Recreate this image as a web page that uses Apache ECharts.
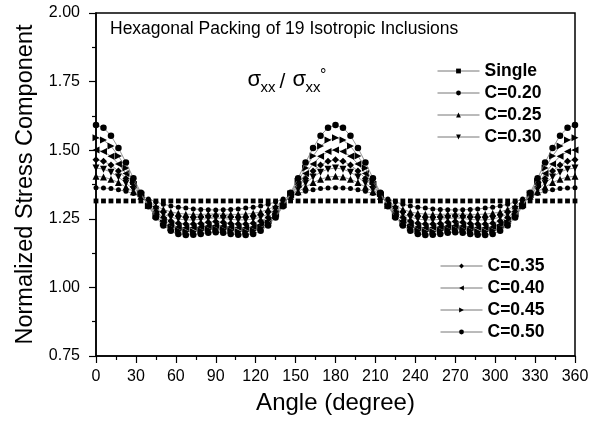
<!DOCTYPE html>
<html>
<head>
<meta charset="utf-8">
<script src="https://cdn.jsdelivr.net/npm/echarts@6/dist/echarts.min.js"></script>
<style>html,body{margin:0;padding:0;background:#fff}#chart{width:601px;height:423px}</style>
</head>
<body>
<div id="chart"></div>
<script>
const angles = [0,5.625,11.25,16.875,22.5,28.125,33.75,39.375,45,50.625,56.25,61.875,67.5,73.125,78.75,84.375,90,95.625,101.25,106.875,112.5,118.125,123.75,129.375,135,140.625,146.25,151.875,157.5,163.125,168.75,174.375,180,185.625,191.25,196.875,202.5,208.125,213.75,219.375,225,230.625,236.25,241.875,247.5,253.125,258.75,264.375,270,275.625,281.25,286.875,292.5,298.125,303.75,309.375,315,320.625,326.25,331.875,337.5,343.125,348.75,354.375,360];

const single = [1.315,1.315,1.315,1.315,1.315,1.315,1.315,1.315,1.315,1.315,1.315,1.315,1.315,1.315,1.315,1.315,1.315,
1.315,1.315,1.315,1.315,1.315,1.315,1.315,1.315,1.315,1.315,1.315,1.315,1.315,1.315,1.315,1.315,
1.315,1.315,1.315,1.315,1.315,1.315,1.315,1.315,1.315,1.315,1.315,1.315,1.315,1.315,1.315,1.315,
1.315,1.315,1.315,1.315,1.315,1.315,1.315,1.315,1.315,1.315,1.315,1.315,1.315,1.315,1.315,1.315];

const c20 = [1.363,1.362,1.360,1.356,1.350,1.342,1.333,1.322,1.312,1.303,1.297,1.292,1.289,1.286,1.284,1.283,1.282,
1.283,1.284,1.286,1.289,1.292,1.297,1.303,1.312,1.322,1.333,1.342,1.350,1.356,1.360,1.362,1.363,
1.362,1.360,1.356,1.350,1.342,1.333,1.322,1.312,1.303,1.297,1.292,1.289,1.286,1.284,1.283,1.282,
1.283,1.284,1.286,1.289,1.292,1.297,1.303,1.312,1.322,1.333,1.342,1.350,1.356,1.360,1.362,1.363];

const c25 = [1.405,1.402,1.394,1.382,1.366,1.349,1.332,1.313,1.297,1.284,1.275,1.270,1.267,1.266,1.266,1.267,1.268,
1.267,1.266,1.266,1.267,1.270,1.275,1.284,1.297,1.313,1.332,1.349,1.366,1.382,1.394,1.402,1.405,
1.402,1.394,1.382,1.366,1.349,1.332,1.313,1.297,1.284,1.275,1.270,1.267,1.266,1.266,1.267,1.268,
1.267,1.266,1.266,1.267,1.270,1.275,1.284,1.297,1.313,1.332,1.349,1.366,1.382,1.394,1.402,1.405];

const c30 = [1.435,1.431,1.420,1.402,1.380,1.357,1.334,1.308,1.285,1.267,1.256,1.249,1.246,1.246,1.248,1.251,1.253,
1.251,1.248,1.246,1.246,1.249,1.256,1.267,1.285,1.308,1.334,1.357,1.380,1.402,1.420,1.431,1.435,
1.431,1.420,1.402,1.380,1.357,1.334,1.308,1.285,1.267,1.256,1.249,1.246,1.246,1.248,1.251,1.253,
1.251,1.248,1.246,1.246,1.249,1.256,1.267,1.285,1.308,1.334,1.357,1.380,1.402,1.420,1.431,1.435];

const c35 = [1.465,1.460,1.446,1.424,1.397,1.366,1.336,1.304,1.276,1.255,1.242,1.234,1.231,1.231,1.233,1.237,1.240,
1.237,1.233,1.231,1.231,1.234,1.242,1.255,1.276,1.304,1.336,1.366,1.397,1.424,1.446,1.460,1.465,
1.460,1.446,1.424,1.397,1.366,1.336,1.304,1.276,1.255,1.242,1.234,1.231,1.231,1.233,1.237,1.240,
1.237,1.233,1.231,1.231,1.234,1.242,1.255,1.276,1.304,1.336,1.366,1.397,1.424,1.446,1.460,1.465];

const c40 = [1.501,1.495,1.478,1.450,1.415,1.375,1.338,1.301,1.268,1.244,1.229,1.220,1.217,1.218,1.220,1.224,1.226,
1.224,1.220,1.218,1.217,1.220,1.229,1.244,1.268,1.301,1.338,1.375,1.415,1.450,1.478,1.495,1.501,
1.495,1.478,1.450,1.415,1.375,1.338,1.301,1.268,1.244,1.229,1.220,1.217,1.218,1.220,1.224,1.226,
1.224,1.220,1.218,1.217,1.220,1.229,1.244,1.268,1.301,1.338,1.375,1.415,1.450,1.478,1.495,1.501];

const c45 = [1.545,1.537,1.515,1.479,1.435,1.386,1.341,1.298,1.261,1.235,1.217,1.207,1.204,1.204,1.207,1.211,1.213,
1.211,1.207,1.204,1.204,1.207,1.217,1.235,1.261,1.298,1.341,1.386,1.435,1.479,1.515,1.537,1.545,
1.537,1.515,1.479,1.435,1.386,1.341,1.298,1.261,1.235,1.217,1.207,1.204,1.204,1.207,1.211,1.213,
1.211,1.207,1.204,1.204,1.207,1.217,1.235,1.261,1.298,1.341,1.386,1.435,1.479,1.515,1.537,1.545];

const c50 = [1.592,1.582,1.553,1.508,1.455,1.398,1.345,1.296,1.255,1.226,1.206,1.195,1.191,1.192,1.195,1.199,1.201,
1.199,1.195,1.192,1.191,1.195,1.206,1.226,1.255,1.296,1.345,1.398,1.455,1.508,1.553,1.582,1.592,
1.582,1.553,1.508,1.455,1.398,1.345,1.296,1.255,1.226,1.206,1.195,1.191,1.192,1.195,1.199,1.201,
1.199,1.195,1.192,1.191,1.195,1.206,1.226,1.255,1.296,1.345,1.398,1.455,1.508,1.553,1.582,1.592];

const seriesNames = ['Single','C=0.20','C=0.25','C=0.30','C=0.35','C=0.40','C=0.45','C=0.50'];
const seriesValues = [single, c20, c25, c30, c35, c40, c45, c50];
const yTicks = [0.75, 1.00, 1.25, 1.50, 1.75, 2.00];
const xTicks = [0,30,60,90,120,150,180,210,240,270,300,330,360];

const FONT = 'Liberation Sans, Arial, sans-serif';
const symbols = [
  {symbol:'rect', size:4.8, rotate:0},
  {symbol:'circle', size:5, rotate:0},
  {symbol:'triangle', size:7, rotate:0},
  {symbol:'triangle', size:7, rotate:180},
  {symbol:'diamond', size:7, rotate:0},
  {symbol:'triangle', size:7, rotate:90},
  {symbol:'triangle', size:7, rotate:-90},
  {symbol:'circle', size:6.5, rotate:0}
];

const series = seriesNames.map((name, si) => ({
  name: name,
  type: 'line',
  data: angles.map((a, i) => [a, seriesValues[si][i]]),
  symbol: symbols[si].symbol,
  symbolSize: symbols[si].size,
  symbolRotate: symbols[si].rotate,
  showAllSymbol: true,
  lineStyle: {color: si === 0 ? '#ffffff' : '#777777', width: si === 0 ? 0 : 0.8},
  itemStyle: {color: '#000000', borderWidth: 0},
  emphasis: {disabled: true},
  z: 2 + si
}));

const chart = echarts.init(document.getElementById('chart'), null, {renderer: 'canvas'});

const legendBase = {
  orient: 'vertical',
  itemWidth: 42,
  itemHeight: 6,
  itemGap: 4,
  selectedMode: false,
  textStyle: {fontFamily: FONT, fontSize: 17.5, fontWeight: 'bold', color: '#000'},
  itemStyle: {color: '#000'},
  lineStyle: {color: '#777', width: 1}
};

const axisLineStyle = {color: '#000', width: 1.5};

chart.setOption({
  animation: false,
  backgroundColor: '#ffffff',
  grid: {left: 96, right: 26, top: 13, bottom: 67, show: true, borderColor: '#000', borderWidth: 1.5},
  legend: [
    Object.assign({}, legendBase, {left: 432, top: 57, data: seriesNames.slice(0, 4)}),
    Object.assign({}, legendBase, {left: 435, top: 252, data: seriesNames.slice(4)})
  ],
  xAxis: {
    type: 'value', min: xTicks[0], max: xTicks[xTicks.length - 1], interval: 30,
    name: 'Angle (degree)', nameLocation: 'middle', nameGap: 35,
    nameTextStyle: {fontFamily: FONT, fontSize: 24, color: '#000'},
    axisLine: {lineStyle: axisLineStyle},
    axisTick: {show: true, inside: false, length: 7, lineStyle: {color: '#000', width: 1.2}},
    minorTick: {show: true, splitNumber: 2, length: 4, lineStyle: {color: '#000', width: 1.2}},
    splitLine: {show: false},
    axisLabel: {fontFamily: FONT, fontSize: 16, color: '#000', margin: 13}
  },
  yAxis: {
    type: 'value', min: yTicks[0], max: yTicks[yTicks.length - 1], interval: 0.25,
    name: 'Normalized Stress Component', nameLocation: 'middle', nameGap: 57,
    nameTextStyle: {fontFamily: FONT, fontSize: 23.5, color: '#000'},
    axisLine: {lineStyle: axisLineStyle},
    axisTick: {show: true, inside: false, length: 7, lineStyle: {color: '#000', width: 1.2}},
    minorTick: {show: true, splitNumber: 2, length: 4, lineStyle: {color: '#000', width: 1.2}},
    splitLine: {show: false},
    axisLabel: {fontFamily: FONT, fontSize: 16, color: '#000', margin: 16, formatter: v => v.toFixed(2)}
  },
  graphic: [
    {type: 'text', x: 110, y: 29.6, style: {text: 'Hexagonal Packing of 19 Isotropic Inclusions', font: '17.5px ' + FONT, fill: '#000', verticalAlign: 'middle'}},
    {type: 'text', x: 247.5, y: 80, style: {text: 'σ', font: '22px ' + FONT, fill: '#000', verticalAlign: 'middle'}},
    {type: 'text', x: 260.5, y: 87.5, style: {text: 'xx', font: '15px ' + FONT, fill: '#000', verticalAlign: 'middle'}},
    {type: 'text', x: 279.5, y: 82.5, style: {text: '/', font: '21px ' + FONT, fill: '#000', verticalAlign: 'middle'}},
    {type: 'text', x: 292.5, y: 80, style: {text: 'σ', font: '22px ' + FONT, fill: '#000', verticalAlign: 'middle'}},
    {type: 'text', x: 305.5, y: 87.5, style: {text: 'xx', font: '15px ' + FONT, fill: '#000', verticalAlign: 'middle'}},
    {type: 'text', x: 320, y: 76, style: {text: '°', font: '16px ' + FONT, fill: '#000', verticalAlign: 'middle'}}
  ],
  series: series
});
</script>
</body>
</html>
